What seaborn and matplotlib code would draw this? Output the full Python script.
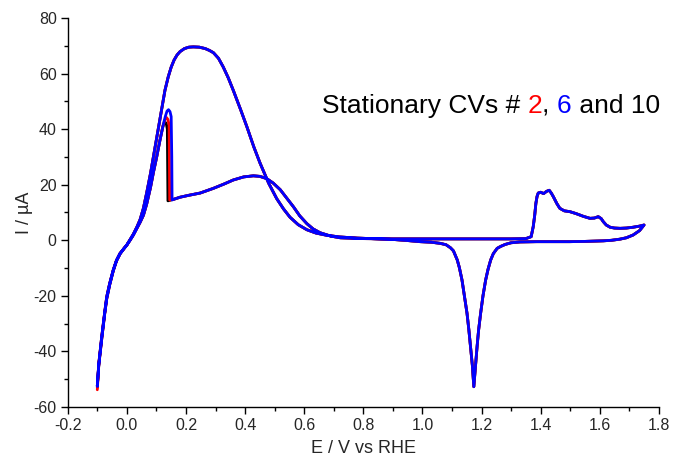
import pandas as pd
import seaborn as sns
import matplotlib.pyplot as plt
from matplotlib.ticker import MultipleLocator, FormatStrFormatter

# Varredura anódica, parte comum aos três ciclos (E em V vs RHE, I em µA)
E_ANOD_BAIXO = [-0.100, -0.095, -0.085, -0.075, -0.068, -0.058, -0.046, -0.035,
                -0.023, -0.010, 0.000, 0.012, 0.022, 0.035, 0.045, 0.056,
                0.067, 0.080, 0.090, 0.101, 0.112, 0.122]
I_ANOD_BAIXO = [-52.5, -44.5, -34.7, -26.0, -20.3, -15.5, -10.7, -7.2,
                -4.7, -3.0, -1.7, 0.2, 1.9, 4.5, 6.5, 9.0,
                13.0, 19.0, 24.5, 30.0, 36.0, 41.0]

# Pico estreito (queda brusca) de cada ciclo
E_PICO_2 = [0.128, 0.134, 0.139, 0.143, 0.145]
I_PICO_2 = [43.2, 44.2, 43.5, 41.5, 14.5]
E_PICO_6 = [0.130, 0.136, 0.141, 0.146, 0.150, 0.152, 0.153]
I_PICO_6 = [44.5, 46.5, 47.0, 46.3, 44.5, 30.0, 14.5]
E_PICO_10 = [0.128, 0.133, 0.137, 0.139]
I_PICO_10 = [42.5, 42.2, 40.0, 14.2]

E_ANOD_ALTO = [0.160, 0.180, 0.210, 0.248, 0.293, 0.330, 0.360, 0.395, 0.428,
               0.450, 0.473, 0.495, 0.519, 0.540, 0.564, 0.585, 0.609, 0.630,
               0.654, 0.690, 0.722, 0.800, 0.900, 1.000, 1.100, 1.200, 1.300,
               1.350, 1.368, 1.375, 1.380, 1.384, 1.388, 1.392, 1.400, 1.410,
               1.420, 1.429, 1.436, 1.443, 1.455, 1.465, 1.480, 1.499, 1.520,
               1.545, 1.567, 1.582, 1.595, 1.605, 1.612, 1.622, 1.635, 1.650,
               1.669, 1.690, 1.713, 1.735, 1.750]
I_ANOD_ALTO = [14.8, 15.5, 16.2, 17.0, 18.7, 20.3, 21.7, 22.8, 23.2,
               23.0, 22.2, 20.6, 18.2, 15.3, 12.0, 8.8, 6.0, 4.1,
               2.7, 1.5, 0.9, 0.6, 0.5, 0.5, 0.5, 0.5, 0.5,
               0.6, 1.3, 4.9, 9.0, 13.3, 15.8, 17.0, 17.3, 16.8,
               17.6, 18.0, 17.0, 15.7, 13.2, 11.5, 10.6, 10.3, 9.6,
               8.6, 7.9, 8.0, 8.5, 7.8, 6.7, 5.5, 4.7, 4.4,
               4.3, 4.4, 4.7, 5.1, 5.5]

# Varredura catódica (de 1.75 V até -0.095 V)
E_CATOD = [1.735, 1.713, 1.690, 1.668, 1.640, 1.612, 1.550, 1.499, 1.450,
           1.387, 1.330, 1.300, 1.280, 1.265, 1.253, 1.240, 1.231, 1.222,
           1.214, 1.205, 1.197, 1.190, 1.185, 1.180, 1.174, 1.169, 1.163,
           1.157, 1.151, 1.142, 1.134, 1.125, 1.118, 1.105, 1.095, 1.080,
           1.060, 1.030, 0.992, 0.950, 0.900, 0.850, 0.778, 0.720, 0.676,
           0.640, 0.609, 0.580, 0.552, 0.530, 0.507, 0.480, 0.451, 0.430,
           0.406, 0.385, 0.360, 0.343, 0.326, 0.310, 0.293, 0.280, 0.265,
           0.245, 0.225, 0.210, 0.195, 0.180, 0.170, 0.160, 0.150, 0.140,
           0.129, 0.120, 0.110, 0.100, 0.090, 0.080, 0.067, 0.056, 0.045,
           0.035, 0.022, 0.012, 0.000, -0.010, -0.023, -0.035, -0.046,
           -0.058, -0.068, -0.075, -0.085, -0.095]
I_CATOD = [3.5, 1.9, 0.9, 0.4, 0.0, -0.2, -0.4, -0.5, -0.5,
           -0.5, -0.6, -0.9, -1.5, -2.2, -2.9, -4.8, -7.1, -10.5,
           -14.3, -20.0, -26.3, -32.5, -38.3, -45.0, -52.7, -45.0, -38.3,
           -32.0, -26.3, -20.0, -14.3, -9.8, -7.1, -3.8, -2.7, -1.6,
           -1.1, -0.7, -0.5, -0.1, 0.3, 0.5, 0.8, 1.2, 1.8,
           2.6, 3.8, 5.6, 8.3, 11.3, 15.0, 20.5, 27.7, 33.5,
           40.9, 47.0, 54.0, 58.5, 62.4, 65.5, 67.5, 68.3, 69.0,
           69.5, 69.6, 69.5, 69.0, 67.9, 66.7, 64.9, 62.3, 58.8,
           54.0, 48.5, 42.5, 36.3, 30.0, 24.0, 17.0, 11.5, 7.5,
           5.0, 2.2, 0.4, -1.7, -3.0, -4.9, -7.4, -11.0,
           -16.0, -21.0, -26.5, -35.5, -45.0]

# Corrente final em -0.1 V de cada ciclo
I_FINAL = {'2': -53.8, '6': -52.5, '10': -53.0}

CORES = {'10': 'black', '2': 'red', '6': 'blue'}


def montar_ciclo(ciclo, E_pico, I_pico):
    E = E_ANOD_BAIXO + E_pico + E_ANOD_ALTO + E_CATOD + [-0.100]
    I = I_ANOD_BAIXO + I_pico + I_ANOD_ALTO + I_CATOD + [I_FINAL[ciclo]]
    return pd.DataFrame({'E': E, 'I': I, 'Ciclo': ciclo, 'Ordem': range(len(E))})


def grafico_cv():
    df = pd.concat([
        montar_ciclo('10', E_PICO_10, I_PICO_10),
        montar_ciclo('2', E_PICO_2, I_PICO_2),
        montar_ciclo('6', E_PICO_6, I_PICO_6),
    ], ignore_index=True)

    sns.set_style('ticks')
    plt.rcParams['font.family'] = ['Liberation Sans', 'DejaVu Sans']
    plt.rcParams['axes.unicode_minus'] = False

    fig = plt.figure(figsize=(6.74, 4.59), dpi=100)
    ax = fig.add_axes([0.1005, 0.1133, 0.877, 0.8475])

    sns.lineplot(data=df, x='E', y='I', hue='Ciclo', hue_order=['10', '2', '6'],
                 palette=CORES, sort=False, estimator=None, units='Ciclo',
                 linewidth=2.0, legend=False, ax=ax)

    ax.set_xlim(-0.2, 1.8)
    ax.set_ylim(-60, 80)
    ax.xaxis.set_major_locator(MultipleLocator(0.2))
    ax.xaxis.set_minor_locator(MultipleLocator(0.1))
    ax.yaxis.set_major_locator(MultipleLocator(20))
    ax.yaxis.set_minor_locator(MultipleLocator(10))
    ax.xaxis.set_major_formatter(FormatStrFormatter('%.1f'))
    ax.tick_params(which='major', length=5, width=1, labelsize=11.5, pad=3, color='black')
    ax.tick_params(which='minor', length=3, width=1, color='black')
    for lado in ['left', 'bottom']:
        ax.spines[lado].set_color('black')
        ax.spines[lado].set_linewidth(1)
    sns.despine(ax=ax)

    ax.set_xlabel('E / V vs RHE', fontsize=13, labelpad=5)
    ax.set_ylabel('I / µA', fontsize=13, labelpad=0)

    # Título colorido dentro do gráfico
    partes = [('Stationary CVs # ', 'black'), ('2', 'red'), (', ', 'black'),
              ('6', 'blue'), (' and 10', 'black')]
    t = ax.text(0.43, 0.775, partes[0][0], color=partes[0][1], fontsize=19,
                transform=ax.transAxes, va='center', ha='left')
    for texto, cor in partes[1:]:
        t = ax.annotate(texto, xy=(1, 0), xycoords=t, va='bottom', ha='left',
                        color=cor, fontsize=19)

    fig.savefig('out.png', dpi=100)
    plt.close(fig)


if __name__ == '__main__':
    grafico_cv()
